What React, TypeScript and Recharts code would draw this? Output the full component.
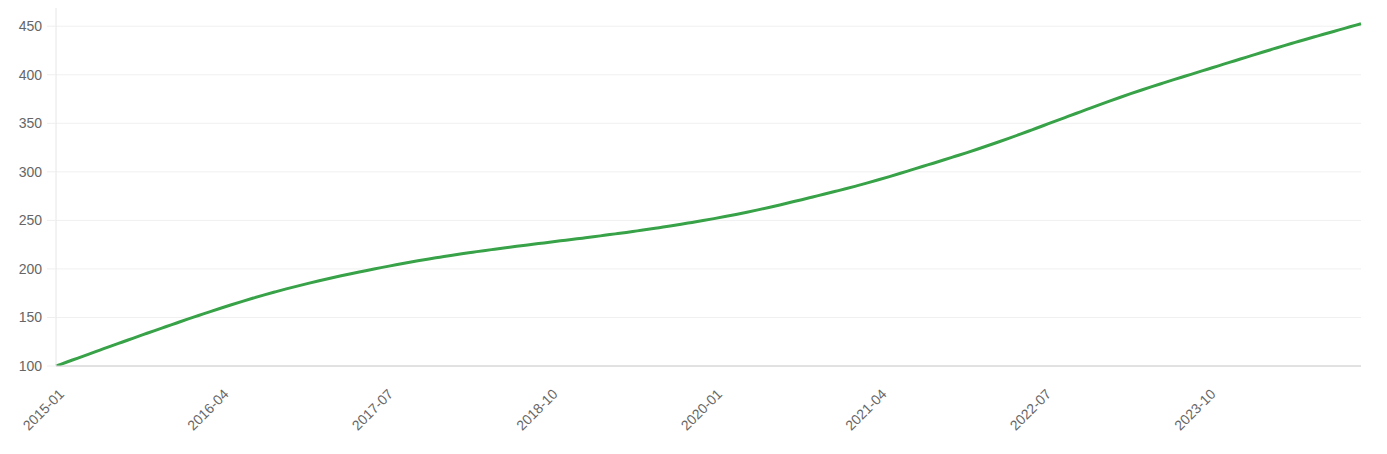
import { LineChart, Line, XAxis, YAxis, CartesianGrid } from "recharts"

const START_YEAR = 2015
const MONTHS = 120

// monthly labels 2015-01 .. 2024-12
const months: string[] = []
for (let i = 0; i < MONTHS; i++) {
  const y = START_YEAR + Math.floor(i / 12)
  const m = (i % 12) + 1
  months.push(`${y}-${m < 10 ? "0" + m : m}`)
}

// values, one per month
const values = [
  100, 104.1, 108.2, 112.3, 116.4, 120.5, 124.5, 128.5, 132.5, 136.5, 140.4, 144.3,
  148.2, 152, 155.8, 159.5, 163.1, 166.6, 170, 173.3, 176.4, 179.4, 182.3, 185.1,
  187.8, 190.4, 192.9, 195.3, 197.6, 199.9, 202.1, 204.3, 206.4, 208.4, 210.3, 212.1,
  213.9, 215.6, 217.2, 218.8, 220.3, 221.8, 223.3, 224.7, 226.1, 227.5, 228.9, 230.3,
  231.7, 233.1, 234.6, 236.1, 237.6, 239.2, 240.8, 242.5, 244.2, 246, 247.9, 249.8,
  251.8, 253.9, 256.1, 258.4, 260.8, 263.3, 265.9, 268.6, 271.3, 274.1, 276.9, 279.7,
  282.5, 285.5, 288.6, 291.8, 295.1, 298.5, 302, 305.5, 308.9, 312.4, 316, 319.6,
  323.3, 327.1, 331, 335, 339.1, 343.3, 347.5, 351.7, 355.9, 360.1, 364.3, 368.5,
  372.6, 376.6, 380.5, 384.3, 388, 391.6, 395.2, 398.7, 402.2, 405.7, 409.2, 412.7,
  416.2, 419.7, 423.2, 426.6, 430, 433.3, 436.6, 439.8, 443, 446.2, 449.4, 452.6,
]

const yTicks = [100, 150, 200, 250, 300, 350, 400, 450]

const data = months.map((month, i) => ({ month, value: values[i] }))

const FONT = "'Liberation Sans', Arial, sans-serif"

function RotatedTick(props: any) {
  const { x, y, payload } = props
  return (
    <text
      x={x}
      y={y}
      transform={`rotate(-45, ${x}, ${y})`}
      textAnchor="end"
      fill="#666"
      fontSize={14}
      fontFamily={FONT}
    >
      {payload.value}
    </text>
  )
}

export default function App() {
  return (
    <div style={{ margin: -8, width: 1387, height: 454, background: "#fff", fontFamily: FONT }}>
      <LineChart
        width={1387}
        height={454}
        data={data}
        margin={{ top: 0, right: 26, bottom: 0, left: 0 }}
      >
        <CartesianGrid vertical={false} stroke="#f0f0f0" />
        <XAxis
          dataKey="month"
          interval={14}
          height={88}
          tickLine={false}
          tickSize={0}
          tickMargin={0}
          stroke="#ccc"
          tick={(p: any) => <RotatedTick {...p} x={p.x + 9} y={p.y + 29} />}
        />
        <YAxis
          width={56}
          domain={[100, 477]}
          ticks={yTicks}
          allowDataOverflow
          stroke="#e6e6e6"
          tickSize={9}
          tickMargin={5}
          tickLine={{ stroke: "#eee" }}
          tick={{ fill: "#666", fontSize: 14, fontFamily: FONT }}
        />
        <Line
          type="monotone"
          dataKey="value"
          stroke="#37a247"
          strokeWidth={3}
          dot={false}
          isAnimationActive={false}
        />
      </LineChart>
    </div>
  )
}
